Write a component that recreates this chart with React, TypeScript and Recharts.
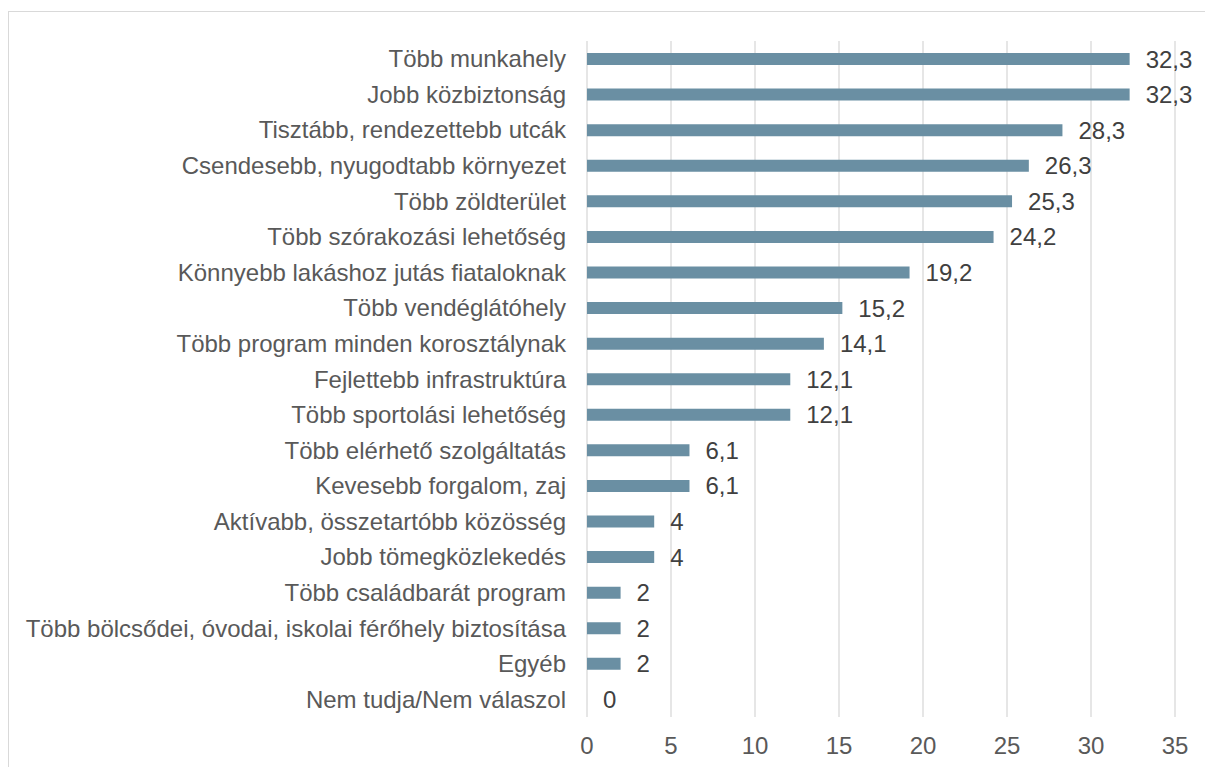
import React from 'react';
import { BarChart, Bar, XAxis, YAxis, CartesianGrid, LabelList } from 'recharts';

const categories = [
  'Több munkahely',
  'Jobb közbiztonság',
  'Tisztább, rendezettebb utcák',
  'Csendesebb, nyugodtabb környezet',
  'Több zöldterület',
  'Több szórakozási lehetőség',
  'Könnyebb lakáshoz jutás fiataloknak',
  'Több vendéglátóhely',
  'Több program minden korosztálynak',
  'Fejlettebb infrastruktúra',
  'Több sportolási lehetőség',
  'Több elérhető szolgáltatás',
  'Kevesebb forgalom, zaj',
  'Aktívabb, összetartóbb közösség',
  'Jobb tömegközlekedés',
  'Több családbarát program',
  'Több bölcsődei, óvodai, iskolai férőhely biztosítása',
  'Egyéb',
  'Nem tudja/Nem válaszol',
];

const values = [32.3, 32.3, 28.3, 26.3, 25.3, 24.2, 19.2, 15.2, 14.1, 12.1, 12.1, 6.1, 6.1, 4, 4, 2, 2, 2, 0];

const xTicks = [0, 5, 10, 15, 20, 25, 30, 35];

const data = categories.map((name, i) => ({ name, value: values[i] }));

const FONT = 'Liberation Sans, Arial, sans-serif';
const FS = 24;

export default function App() {
  return (
    <div style={{ position: 'fixed', left: 0, top: 0, width: 1205, height: 767, overflow: 'hidden', background: '#fff' }}>
      <div style={{ position: 'absolute', left: 8, top: 11, width: 1300, height: 900, border: '1px solid #d9d9d9', boxSizing: 'border-box' }} />
      <div style={{ position: 'absolute', left: 0, top: 0 }}>
        <BarChart
          width={1205}
          height={767}
          data={data}
          layout="vertical"
          margin={{ top: 41, right: 30, bottom: 10, left: 7 }}
          barCategoryGap={0}
        >
          <CartesianGrid horizontal={false} stroke="#d9d9d9" strokeWidth={1.3} />
          <XAxis
            type="number"
            domain={[0, 35]}
            ticks={xTicks}
            interval={0}
            axisLine={false}
            tickLine={false}
            tickSize={6}
            tickMargin={14}
            height={40}
            tick={{ fill: '#595959', fontSize: FS, fontFamily: FONT }}
          />
          <YAxis
            type="category"
            dataKey="name"
            width={580}
            axisLine={false}
            tickLine={false}
            tickSize={6}
            tickMargin={15}
            interval={0}
            tick={{ fill: '#595959', fontSize: FS, fontFamily: FONT }}
          />
          <Bar
            dataKey="value"
            fill="#6a8fa3"
            barSize={12}
            minPointSize={(v: any) => (v === 0 ? 0.01 : 0)}
            isAnimationActive={false}
          >
            <LabelList
              dataKey="value"
              position="right"
              offset={16}
              formatter={(v: any) => String(v).replace('.', ',')}
              style={{ fill: '#404040', fontSize: FS, fontFamily: FONT }}
            />
          </Bar>
        </BarChart>
      </div>
    </div>
  );
}
